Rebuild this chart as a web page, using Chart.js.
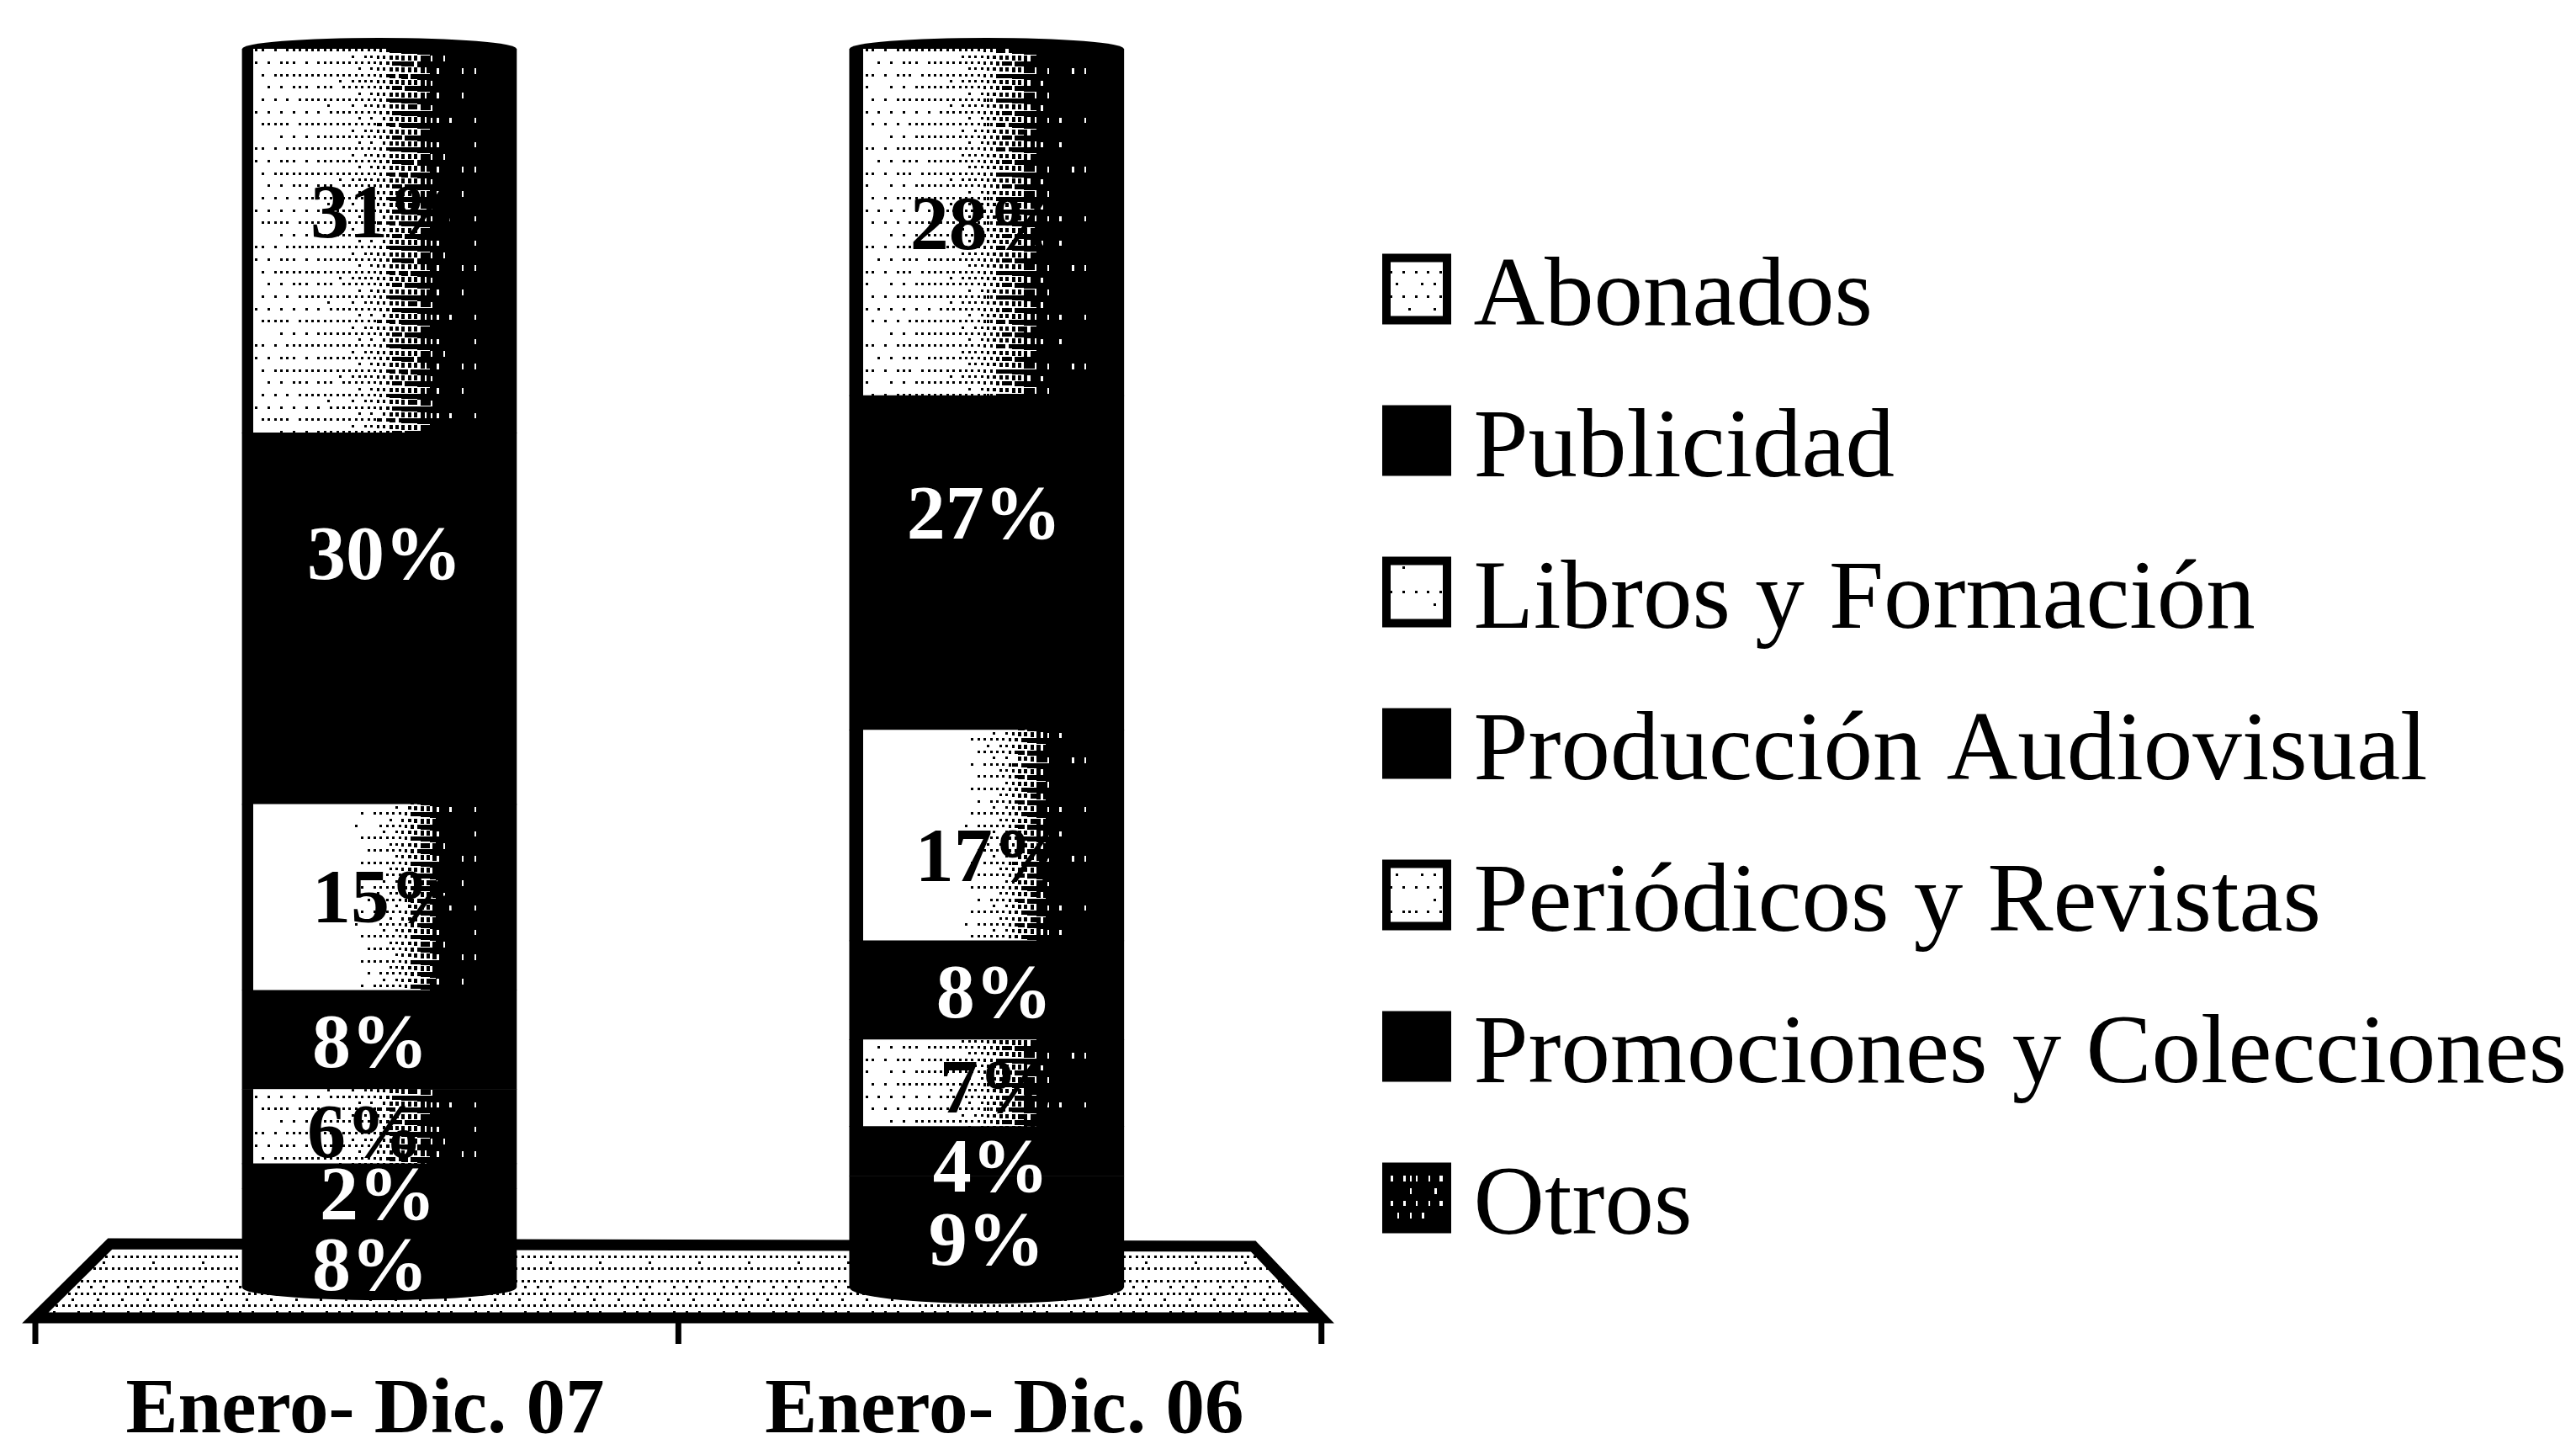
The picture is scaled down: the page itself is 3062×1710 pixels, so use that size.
<!DOCTYPE html>
<html><head><meta charset="utf-8">
<style>html,body{margin:0;padding:0;background:#fff}canvas{display:block}</style>
<script src="https://cdn.jsdelivr.net/npm/chart.js@4"></script></head>
<body><canvas id="c" width="3062" height="1710"></canvas>
<script>
// ---- data (bottom of the stack first) ----
const categories = ["Enero- Dic. 07", "Enero- Dic. 06"];
const seriesNames = ["Otros","Promociones y Colecciones","Periódicos y Revistas","Producción Audiovisual","Libros y Formación","Publicidad","Abonados"];
const otros       = [8, 9];
const promociones = [2, 4];
const periodicos  = [6, 7];
const produccion  = [8, 8];
const libros      = [15, 17];
const publicidad  = [30, 27];
const abonados    = [31, 28];
const seriesValues = [otros, promociones, periodicos, produccion, libros, publicidad, abonados];

// ---- styling ----
const FONT = '"Liberation Serif"';
const seriesStyle = ["black","black","dots","black","whitish","black","dots"];
const labelColor  = ["#fff","#fff","#000","#fff","#000","#fff","#000"];
const legendTone  = [0.88,1,0.1,1,0.03,1,0.12];
const labelNudge = [
  [[-11,38],[0,15]],[[-2,28],[5,24]],[[-17,13],[13,11]],[[-11,9],[9,9]],
  [[12,6],[7,31]],[[6,-71],[-3,-53]],[[10,-28],[1,8]]
];
const tickNudge = [-17, 21];

const bayer = [[0,8,2,10],[12,4,14,6],[3,11,1,9],[15,7,13,5]];
function grain(i,j){ return ((i*37+j*101+(i*j)%13*17)%29)/29; }
function dither(g, x, y, w, h, tone){
  const px = 3.7, py = 7.3;
  g.fillStyle = '#000';
  const i0 = Math.floor(x/px), i1 = Math.ceil((x+w)/px);
  const j1 = Math.ceil((y+h)/py);
  for (let j = Math.floor(y/py); j < j1; j++) for (let i = i0; i < i1; i++) {
    const t = tone(i*px);
    const th = (bayer[j&3][i&3]+0.5)/16;
    if (th + (t>0&&t<0.98 ? (grain(i,j)-0.5)*0.14 : 0) < t) {
      const s = Math.max(0,Math.min(1,(t-0.45)/0.45));
      g.fillRect(Math.round(i*px), Math.round(j*py), Math.round(3+2*s), Math.round(3+5*s));
    }
  }
}
const toneCurves = {
  dots: u => u<0.035 ? 1 : u<0.35 ? 0.1+(u-0.035)*0.5 : u<0.74 ? 0.26+(u-0.35)*1.8 : u<0.86 ? 0.975 : 1,
  whitish: u => u<0.035 ? 1 : u<0.4 ? 0 : u<0.74 ? (u-0.4)*2.8 : u<0.86 ? 0.975 : 1
};
const cache = {};
function barFill(ctx, style, left, width){
  const key = style+left;
  if (cache[key]) return cache[key];
  const c = document.createElement('canvas'); c.width = 3062; c.height = 117;
  const g = c.getContext('2d'); g.fillStyle='#fff'; g.fillRect(0,0,3062,117);
  const curve = toneCurves[style];
  dither(g, left, 0, width, 117, x => curve((x-left)/width));
  return cache[key] = ctx.createPattern(c,'repeat');
}
function flatFill(ctx, t){
  const key = 'f'+t;
  if (cache[key]) return cache[key];
  const c = document.createElement('canvas'); c.width = 59; c.height = 117;
  const g = c.getContext('2d'); g.fillStyle='#fff'; g.fillRect(0,0,59,117);
  dither(g,0,0,59,117,()=>t);
  return cache[key] = ctx.createPattern(c,'repeat');
}

const BAR_W = 326;
const ctx2d = document.getElementById('c').getContext('2d');

const datasets = seriesNames.map((name,k)=>({
  label:name, data:seriesValues[k], barThickness:BAR_W, borderWidth:0,
  backgroundColor: c => {
    if (seriesStyle[k]==='black' || !c.chart.chartArea) return '#000';
    const x = c.chart.scales.x.getPixelForValue(c.dataIndex);
    return barFill(ctx2d, seriesStyle[k], Math.round(x-BAR_W/2), BAR_W);
  }
}));

const scene = {
  id:'scene',
  afterLayout(chart){
    const l = chart.legend;
    const dx = 1580 - l.left; l.left += dx; l.right += dx;
    l.top = 234;
  },
  beforeDraw(chart){
    const items = chart.scales.x.getLabelItems(chart.chartArea);
    if (!items._n){ items._n = 1; items.forEach((it,i)=>{ it.options.translation[0]+=tickNudge[i]; }); }
  },
  beforeDatasetsDraw(chart){
    const g = chart.ctx, a = chart.chartArea, L=a.left, R=a.right, B=a.bottom;
    g.save();
    g.beginPath();
    g.moveTo(L+41,B-52); g.lineTo(R-44,B-49); g.lineTo(R+37,B+36); g.lineTo(L-48,B+36); g.closePath();
    g.fillStyle = flatFill(g,0.3); g.fill();
    g.lineWidth = 13; g.strokeStyle='#000'; g.lineJoin='miter'; g.stroke();
    g.lineWidth = 7;
    const mid = (L-48+R+37)/2;
    [L-48,mid,R+37].forEach(x=>{ g.beginPath(); g.moveTo(x,B+36); g.lineTo(x,B+67); g.stroke(); });
    g.restore();
  },
  afterDatasetsDraw(chart){
    const g = chart.ctx;
    const first = chart.getDatasetMeta(0).data, last = chart.getDatasetMeta(seriesNames.length-1).data;
    g.save(); g.fillStyle='#000';
    first.forEach((b,i)=>{
      g.beginPath(); g.ellipse(b.x,b.base,BAR_W/2,i?19:15,0,0,Math.PI); g.fill();
      const t = last[i];
      g.beginPath(); g.ellipse(t.x,t.y,BAR_W/2,13,0,Math.PI,2*Math.PI); g.fill();
    });
    g.textAlign='center'; g.textBaseline='middle';
    g.font = 'bold 92px '+FONT;
    seriesNames.forEach((n,k)=>{
      chart.getDatasetMeta(k).data.forEach((b,i)=>{
        const [dx,dy] = labelNudge[k][i];
        g.fillStyle = labelColor[k];
        g.fillText(seriesValues[k][i]+'%', b.x+dx, (b.y+b.base)/2+dy);
      });
    });
    // legend swatches, aligned with the legend rows
    const lg = chart.legend, pad = lg.options.labels.padding;
    const h = lg.legendHitBoxes[0] ? lg.legendHitBoxes[0].height : 117;
    seriesNames.forEach((n,k)=>{
      const row = seriesNames.length-1-k;
      const cy = lg.top + pad + row*(h+pad) + h/2 - 12;
      const x = lg.left + pad, y = cy-42, w = 82, hh = 84;
      g.fillStyle = '#000'; g.fillRect(x,y,w,hh);
      if (legendTone[k] !== 1) {
        g.fillStyle = flatFill(g,legendTone[k]);
        g.fillRect(x+10,y+10,w-20,hh-20);
      }
    });
    g.restore();
  }
};

new Chart(ctx2d,{
  type:'bar',
  data:{labels:categories,datasets},
  plugins:[scene],
  options:{
    responsive:false, animation:false, devicePixelRatio:1,
    layout:{padding:{left:90,top:58,right:47,bottom:0}},
    scales:{
      x:{stacked:true,grid:{display:false},border:{display:false},
         afterFit(s){ s.height = 180; },
         ticks:{color:'#000',padding:84,maxRotation:0,autoSkip:false,font:{family:FONT,weight:'bold',size:93}}},
      y:{stacked:true,display:false,min:0,max:100}
    },
    plugins:{
      tooltip:{enabled:false},
      legend:{position:'right',reverse:true,align:'start',maxWidth:1528,
        labels:{boxWidth:50,boxHeight:76,padding:63,color:'#000',font:{family:FONT,size:117},
          generateLabels(chart){
            return seriesNames.map((n,k)=>({text:n,datasetIndex:k,fontColor:'#000',
              fillStyle:'rgba(0,0,0,0)',strokeStyle:'rgba(0,0,0,0)',lineWidth:0,hidden:false}));
          }}}
    }
  }
});
</script></body></html>
